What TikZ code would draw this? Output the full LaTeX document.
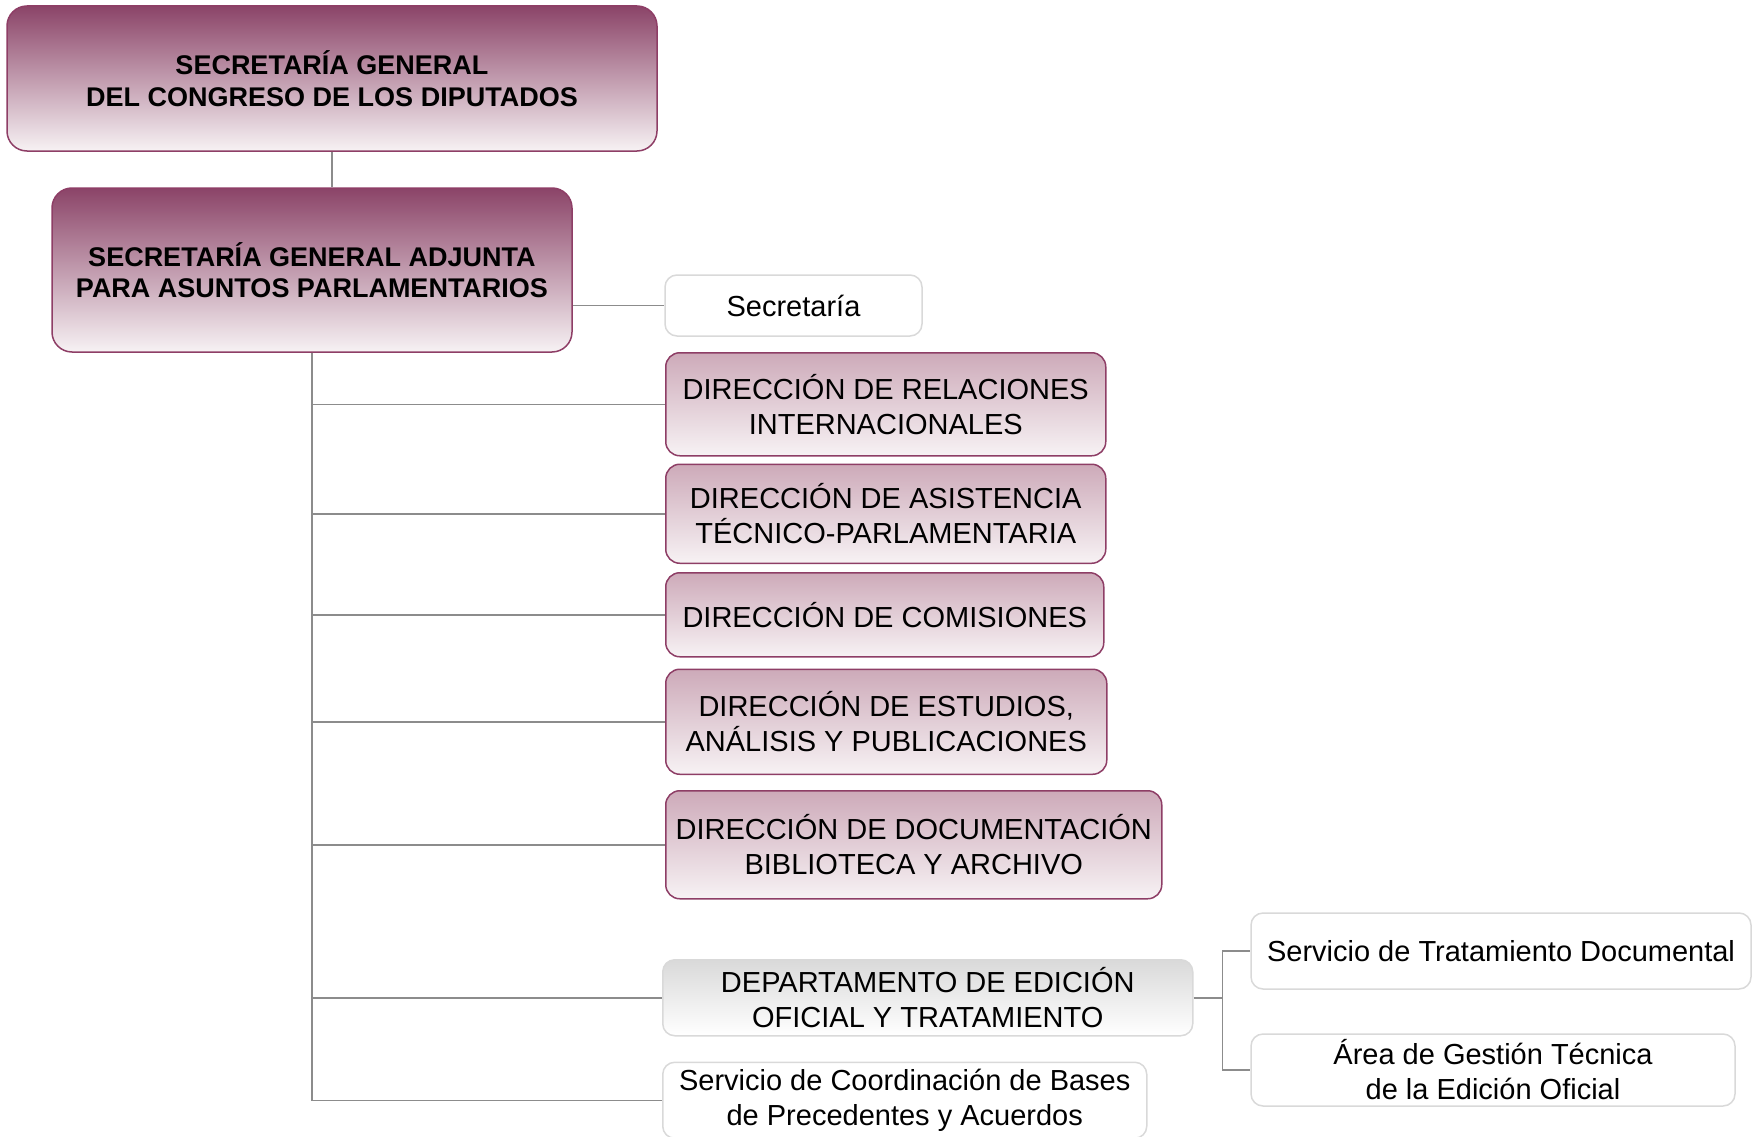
\documentclass[tikz,border=0pt]{standalone}
\usepackage{fontspec}
\setmainfont{Liberation Sans}
\usetikzlibrary{positioning}

\definecolor{vino}{RGB}{139,68,104}
\definecolor{vinoborde}{RGB}{142,62,102}
\definecolor{rosa}{RGB}{205,170,185}
\definecolor{rosaclaro}{RGB}{247,242,244}
\definecolor{linea}{RGB}{140,140,140}
\definecolor{gris}{RGB}{217,217,217}

\begin{document}
\begin{tikzpicture}[x=1pt, y=-1pt, node distance=9pt,
    jefe/.style={draw=vinoborde, line width=1.5pt, rounded corners=20pt, top color=vino, bottom color=rosaclaro, align=center, inner sep=0pt, font=\bfseries\fontsize{27}{31.5}\selectfont},
    direccion/.style={draw=vinoborde, line width=1.5pt, rounded corners=14pt, top color=rosa, bottom color=rosaclaro, align=center, inner sep=0pt, font=\fontsize{29}{35}\selectfont},
    servicio/.style={draw=gris, line width=1.5pt, rounded corners=12pt, fill=white, align=center, inner sep=0pt, font=\fontsize{29}{35}\selectfont},
    depto/.style={servicio, top color=gris, bottom color=white},
    enlace/.style={draw=linea, line width=1.5pt}]

    \useasboundingbox (0,0) rectangle (1761,1137);

    \node [jefe, minimum width=650pt, minimum height=145pt] (general) at (332,78.5) {SECRETARÍA GENERAL\\DEL CONGRESO DE LOS DIPUTADOS};
    \node [jefe, minimum width=520pt, minimum height=164pt] (adjunta) at (312,270) {SECRETARÍA GENERAL ADJUNTA\\PARA ASUNTOS PARLAMENTARIOS};

    \node [servicio, minimum width=257pt, minimum height=61pt] (secretaria) at (793.5,305.5) {Secretaría};

    \node [direccion, minimum width=440pt, minimum height=103pt, anchor=north west] (relaciones) at (665,352) {DIRECCIÓN DE RELACIONES\\INTERNACIONALES};
    \node [direccion, minimum width=440pt, minimum height=99pt] (asistencia) [below=7pt of relaciones.south west, anchor=north west] {DIRECCIÓN DE ASISTENCIA\\TÉCNICO-PARLAMENTARIA};
    \node [direccion, minimum width=438pt, minimum height=84pt] (comisiones) [below=8pt of asistencia.south west, anchor=north west] {DIRECCIÓN DE COMISIONES};
    \node [direccion, minimum width=441pt, minimum height=105pt] (estudios) [below=11pt of comisiones.south west, anchor=north west] {DIRECCIÓN DE ESTUDIOS,\\ANÁLISIS Y PUBLICACIONES};
    \node [direccion, minimum width=496pt, minimum height=108pt] (documentacion) [below=15pt of estudios.south west, anchor=north west] {DIRECCIÓN DE DOCUMENTACIÓN\\BIBLIOTECA Y ARCHIVO};

    \node [depto, minimum width=530pt, minimum height=76pt, anchor=north west] (edicion) at (662,959) {DEPARTAMENTO DE EDICIÓN\\OFICIAL Y TRATAMIENTO};
    \node [servicio, minimum width=484pt, minimum height=76pt] (bases) [below=25pt of edicion.south west, anchor=north west] {Servicio de Coordinación de Bases\\de Precedentes y Acuerdos};

    \node [servicio, minimum width=500pt, minimum height=76pt] (tratamiento) at (1501,951) {Servicio de Tratamiento Documental};
    \node [servicio, minimum width=484pt, minimum height=72pt] (gestion) at (1493,1070) {Área de Gestión Técnica\\de la Edición Oficial};

    \draw[enlace] (general.south) -- (general.south |- adjunta.north);
    \draw[enlace] (secretaria.west -| adjunta.east) -- (secretaria.west);

    \draw[enlace] (adjunta.south) |- (relaciones.west);
    \draw[enlace] (adjunta.south) |- (asistencia.west);
    \draw[enlace] (adjunta.south) |- (comisiones.west);
    \draw[enlace] (adjunta.south) |- (estudios.west);
    \draw[enlace] (adjunta.south) |- (documentacion.west);
    \draw[enlace] (adjunta.south) |- (edicion.west);
    \draw[enlace] (adjunta.south) |- (bases.west);

    \draw[enlace] (edicion.east) -- ++(29,0) coordinate (rama) |- (tratamiento.west);
    \draw[enlace] (rama) |- (gestion.west);

\end{tikzpicture}
\end{document}
